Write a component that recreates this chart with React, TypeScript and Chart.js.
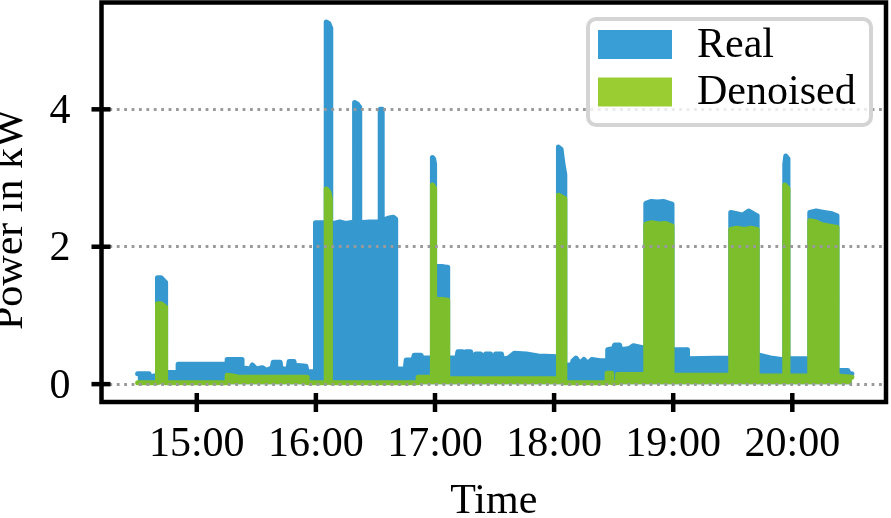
import React, { useEffect, useRef } from 'react';
import Chart from 'chart.js/auto';

// ---- data (time in minutes since midnight, power in kW) ----
const hourTicks = [900, 960, 1020, 1080, 1140, 1200];
const hourLabels = ['15:00', '16:00', '17:00', '18:00', '19:00', '20:00'];
const powerTicks = [0, 2, 4];
const seriesNames = ['Real', 'Denoised'];

const realTimes = [
  870.2, 876, 876.5, 878.5, 880.2, 880.2, 882, 884.3, 884.3, 890.6, 890.6, 915.3, 915.3, 922.8, 922.8, 927, 928, 930, 933, 935, 938, 938.5, 942, 942.5, 946, 946.5, 949, 949.5, 951, 955, 955.5, 959.8,
  959.8, 965.2, 965.2, 966.5, 967.5, 967.5, 972, 975, 979.5, 979.5, 980.8, 982.1, 982.1, 987, 992.4, 992.4, 993.4, 993.4, 997, 999, 1000.2, 1000.2,
  1005, 1005.5, 1009, 1009.5, 1013, 1013.5, 1018.7, 1018.7, 1019.3, 1019.8, 1019.8, 1026.4, 1026.4,
  1031, 1031.5, 1034, 1034.5, 1035.5, 1038, 1038.5, 1040, 1040.5, 1043, 1043.5, 1045, 1045.5, 1048, 1048.5, 1050, 1050.5, 1053.5, 1054, 1057, 1060, 1066, 1072, 1082.2,
  1082.2, 1083.5, 1084.5, 1085.4, 1085.4, 1089, 1089.5, 1091, 1093, 1095, 1097, 1099, 1103, 1106.7, 1107, 1110, 1110.5, 1113, 1113.5, 1118, 1120, 1126.2,
  1126.2, 1129, 1132, 1135, 1139.4, 1139.4, 1147, 1147.2, 1169, 1169, 1172, 1175, 1178, 1182.3, 1182.3, 1189, 1196.2, 1196.2, 1196.7, 1197.8, 1197.8, 1208.8,
  1208.8, 1212, 1216, 1220, 1222.5, 1222.5, 1228, 1228.5, 1230,
];
const realKW = [
  0.15, 0.15, 0.1, 0.12, 0.12, 1.55, 1.55, 1.48, 0.17, 0.17, 0.29, 0.29, 0.36, 0.36, 0.24, 0.22, 0.28, 0.22, 0.24, 0.2, 0.24, 0.32, 0.32, 0.22, 0.22, 0.33, 0.33, 0.22, 0.27, 0.26, 0.18, 0.18,
  2.35, 2.35, 5.27, 5.25, 5.18, 2.33, 2.36, 2.34, 2.36, 4.1, 4.08, 4.03, 2.35, 2.36, 2.36, 4.0, 4.0, 2.38, 2.42, 2.43, 2.4, 0.22,
  0.22, 0.35, 0.35, 0.42, 0.42, 0.38, 0.38, 3.3, 3.28, 3.2, 1.73, 1.7, 0.38,
  0.38, 0.47, 0.47, 0.4, 0.47, 0.47, 0.38, 0.36, 0.44, 0.44, 0.36, 0.36, 0.44, 0.44, 0.36, 0.36, 0.44, 0.44, 0.36, 0.38, 0.45, 0.44, 0.41, 0.4,
  3.45, 3.42, 3.2, 3.05, 0.28, 0.28, 0.34, 0.38, 0.3, 0.36, 0.3, 0.36, 0.34, 0.34, 0.5, 0.52, 0.57, 0.57, 0.5, 0.52, 0.56, 0.52,
  2.63, 2.66, 2.65, 2.66, 2.62, 0.5, 0.5, 0.37, 0.38, 2.5, 2.48, 2.46, 2.52, 2.45, 0.43, 0.38, 0.35, 3.2, 3.32, 3.28, 0.37, 0.37,
  2.5, 2.52, 2.5, 2.48, 2.45, 0.2, 0.2, 0.15, 0.15,
];

const denoisedTimes = [
  870.2, 880.2, 880.2, 882, 884.3, 884.3, 915.3, 915.3, 918, 921, 955.6, 955.6, 965.2, 965.2, 966.5, 967.3, 967.3,
  1011.5, 1011.5, 1018.7, 1018.7, 1019.8, 1019.8, 1026.4, 1026.4, 1082.2, 1082.2, 1085.4, 1085.4,
  1106.7, 1106.7, 1109, 1109, 1112, 1112, 1126.2, 1126.2, 1129, 1133, 1136, 1139.4, 1139.4,
  1169, 1169, 1172, 1176, 1179, 1182.3, 1182.3, 1196.2, 1196.2, 1197.8, 1197.8, 1208.8,
  1208.8, 1212, 1215, 1219, 1222.5, 1222.5, 1230,
];
const denoisedKW = [
  0.02, 0.02, 1.17, 1.17, 1.12, 0.02, 0.02, 0.13, 0.12, 0.1, 0.1, 0.02, 0.02, 2.84, 2.8, 2.7, 0.02,
  0.02, 0.1, 0.1, 2.9, 2.85, 1.25, 1.22, 0.08, 0.08, 2.75, 2.7, 0.02,
  0.02, 0.16, 0.16, 0.02, 0.02, 0.14, 0.14, 2.33, 2.35, 2.33, 2.34, 2.3, 0.13,
  0.13, 2.25, 2.27, 2.25, 2.27, 2.25, 0.12, 0.12, 2.9, 2.85, 0.12, 0.12,
  2.38, 2.36, 2.32, 2.3, 2.28, 0.12, 0.1,
];

const X_MIN = 852;
const X_MAX = 1247.2;
const Y_MIN = -0.26;
const Y_MAX = 5.555;

const SERIF = '"Liberation Serif", "Times New Roman", serif';

// moves the y-axis title centre slightly below the plot centre, as in the reference
const titleShiftPlugin = {
  id: 'yTitleShift',
  afterLayout(chart: any) {
    const ys = chart.scales.y;
    ys.bottom += 34;
    ys.height += 34;
  },
};

const framePlugin = {
  id: 'frameAndTicks',
  afterDraw(chart: any) {
    const { ctx, chartArea } = chart;
    const xs = chart.scales.x;
    const ys = chart.scales.y;
    ctx.save();
    ctx.strokeStyle = '#000';
    ctx.lineWidth = 4.5;
    ctx.lineCap = 'butt';
    ctx.beginPath();
    ctx.rect(chartArea.left, chartArea.top, chartArea.right - chartArea.left, chartArea.bottom - chartArea.top);
    ctx.stroke();
    ctx.lineWidth = 4.5;
    xs.ticks.forEach((t: any) => {
      const px = xs.getPixelForValue(t.value);
      ctx.beginPath();
      ctx.moveTo(px, chartArea.bottom - 9);
      ctx.lineTo(px, chartArea.bottom + 10);
      ctx.stroke();
    });
    ys.ticks.forEach((t: any) => {
      const py = ys.getPixelForValue(t.value);
      ctx.beginPath();
      ctx.moveTo(chartArea.left - 10, py);
      ctx.lineTo(chartArea.left + 9, py);
      ctx.stroke();
    });

    // legend
    const bx = 588, by = 19, bw = 283, bh = 106, r = 8;
    ctx.beginPath();
    ctx.moveTo(bx + r, by);
    ctx.arcTo(bx + bw, by, bx + bw, by + bh, r);
    ctx.arcTo(bx + bw, by + bh, bx, by + bh, r);
    ctx.arcTo(bx, by + bh, bx, by, r);
    ctx.arcTo(bx, by, bx + bw, by, r);
    ctx.closePath();
    ctx.fillStyle = 'rgba(255,255,255,0.8)';
    ctx.fill();
    ctx.strokeStyle = '#d4d4d4';
    ctx.lineWidth = 4;
    ctx.stroke();
    ctx.font = '42px ' + SERIF;
    ctx.textBaseline = 'middle';
    ctx.textAlign = 'left';
    chart.data.datasets.forEach((ds: any, i: number) => {
      const y0 = 30 + i * 47.5;
      ctx.fillStyle = ds.legendColor;
      ctx.fillRect(598, y0, 74, 29);
      ctx.fillStyle = '#000';
      ctx.fillText(ds.label, 697, y0 + 15.5);
    });
    ctx.restore();
  },
};

export default function App() {
  const canvasRef = useRef<HTMLCanvasElement | null>(null);

  useEffect(() => {
    document.body.style.margin = '0';
    const canvas = canvasRef.current;
    if (!canvas) return;
    const realData = realTimes.map((t, i) => ({ x: t, y: realKW[i] }));
    const denoisedData = denoisedTimes.map((t, i) => ({ x: t, y: denoisedKW[i] }));

    const chart = new Chart(canvas, {
      type: 'line',
      data: {
        datasets: [
          {
            label: seriesNames[0],
            data: realData,
            borderColor: '#3599d0',
            backgroundColor: '#3599d0',
            legendColor: '#3a9ed6',
            fill: 'origin',
            borderWidth: 5,
            pointRadius: 0,
            tension: 0,
            borderJoinStyle: 'round',
            borderCapStyle: 'round',
            order: 2,
          } as any,
          {
            label: seriesNames[1],
            data: denoisedData,
            borderColor: '#7cbe2b',
            backgroundColor: '#7cbe2b',
            legendColor: '#9acd32',
            fill: 'origin',
            borderWidth: 5,
            pointRadius: 0,
            tension: 0,
            borderJoinStyle: 'round',
            borderCapStyle: 'round',
            order: 1,
          } as any,
        ],
      },
      options: {
        responsive: false,
        animation: false,
        parsing: false as any,
        normalized: true,
        layout: { padding: { top: 2.5, right: 5, left: 0, bottom: 0 } },
        plugins: {
          legend: { display: false },
          tooltip: { enabled: false },
        },
        scales: {
          x: {
            type: 'linear',
            min: X_MIN,
            max: X_MAX,
            afterBuildTicks: (scale: any) => {
              scale.ticks = hourTicks.map((v) => ({ value: v }));
            },
            afterFit: (scale: any) => {
              scale.height = 116;
              scale.paddingLeft = 0;
              scale.paddingRight = 0;
              scale.paddingTop = 0;
              scale.paddingBottom = 0;
            },
            ticks: {
              autoSkip: false,
              maxRotation: 0,
              color: '#000',
              padding: 18,
              font: { family: SERIF, size: 42 },
              callback: (value: any) => {
                const idx = hourTicks.indexOf(Number(value));
                return idx >= 0 ? hourLabels[idx] : '';
              },
            },
            grid: { display: false, drawTicks: false },
            border: { display: false },
            title: {
              display: true,
              text: 'Time',
              color: '#000',
              font: { family: SERIF, size: 42, lineHeight: 0.76 },
              padding: 0,
            },
          },
          y: {
            type: 'linear',
            min: Y_MIN,
            max: Y_MAX,
            afterBuildTicks: (scale: any) => {
              scale.ticks = powerTicks.map((v) => ({ value: v }));
            },
            afterFit: (scale: any) => {
              scale.width = 101.5;
              scale.paddingLeft = 0;
              scale.paddingRight = 0;
              scale.paddingTop = 0;
              scale.paddingBottom = 0;
            },
            ticks: {
              color: '#000',
              padding: 31,
              labelOffset: 2.5,
              font: { family: SERIF, size: 42 },
              callback: (value: any) => String(value),
            },
            grid: {
              display: true,
              drawTicks: false,
              color: '#9a9a9a',
              lineWidth: 3,
              z: 1,
            },
            border: { display: false, dash: [2.8, 4.6] },
            title: {
              display: true,
              text: 'Power in kW',
              color: '#000',
              font: { family: SERIF, size: 42, lineHeight: 0.52 },
              padding: 0,
            },
          },
        },
      },
      plugins: [titleShiftPlugin, framePlugin],
    });
    return () => chart.destroy();
  }, []);

  return (
    <div style={{ width: 891, height: 518 }}>
      <canvas ref={canvasRef} width={891} height={518} style={{ display: 'block' }} />
    </div>
  );
}
